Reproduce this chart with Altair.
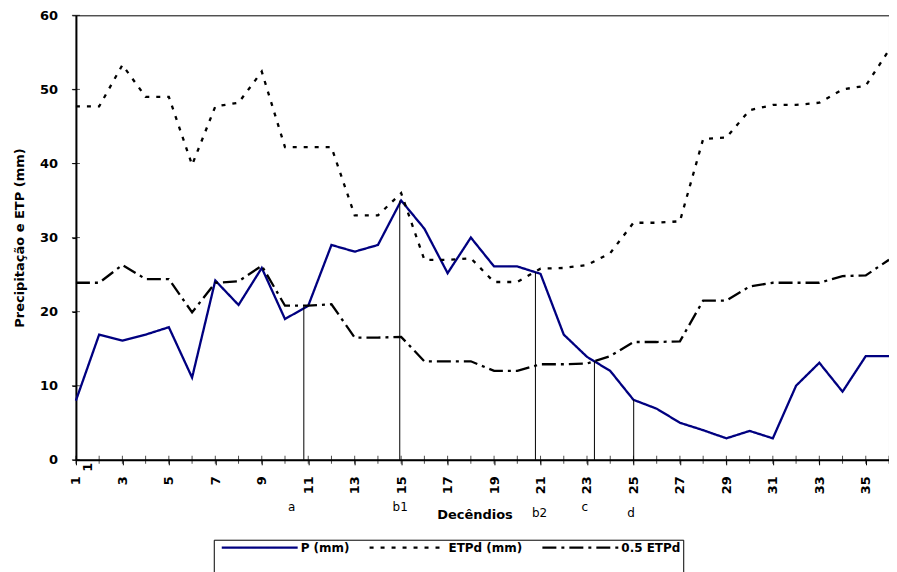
import altair as alt
import pandas as pd

# ---- data ----
decendios = list(range(1, 37))
series_names = ["P (mm)", "ETPd (mm)", "0.5 ETPd"]

p_mm = [8.0, 16.9, 16.1, 16.9, 17.9, 11.1, 24.2, 20.9, 25.9, 19.0,
        20.8, 29.0, 28.1, 29.0, 35.0, 31.2, 25.2, 30.0, 26.1, 26.1,
        25.1, 16.9, 13.9, 12.0, 8.1, 6.9, 5.0, 4.0, 2.9, 3.9,
        2.9, 10.0, 13.1, 9.2, 14.0, 14.0]

etpd_mm = [47.7, 47.7, 53.3, 49.0, 49.0, 39.8, 47.7, 48.2, 52.4, 42.2,
           42.2, 42.2, 33.0, 33.0, 36.0, 27.0, 27.0, 27.2, 24.0, 24.0,
           25.8, 25.9, 26.3, 27.9, 32.0, 32.0, 32.2, 43.3, 43.5, 47.2,
           47.9, 47.9, 48.2, 50.0, 50.5, 55.3]

half_etpd = [23.9, 23.9, 26.3, 24.4, 24.4, 19.9, 23.9, 24.1, 26.2, 20.8,
             20.8, 21.0, 16.5, 16.5, 16.6, 13.3, 13.3, 13.3, 12.0, 12.0,
             12.9, 12.9, 13.0, 14.0, 15.9, 15.9, 16.0, 21.5, 21.5, 23.4,
             23.9, 23.9, 23.9, 24.8, 24.9, 27.0]

# vertical reference lines (intersections) and their labels
line_x = [10.81, 14.94, 20.78, 23.32, 25.01]
line_top = [20.7, 35.0, 25.3, 13.3, 8.1]
upper_labels = ["a", "b1", "c"]
upper_label_x = [10.29, 14.96, 22.9]
lower_labels = ["b2", "d"]
lower_label_x = [20.96, 24.9]

extra_tick_label = ["1"]
extra_tick_x = [1.52]

x_tick_values = list(range(1, 37))
y_tick_values = [0, 10, 20, 30, 40, 50, 60]

# ---- tables ----
rows = []
for name, vals in zip(series_names, [p_mm, etpd_mm, half_etpd]):
    for d, v in zip(decendios, vals):
        rows.append({"Decêndio": d, "valor": v, "serie": name})
df = pd.DataFrame(rows)

rules_df = pd.DataFrame({"x": line_x, "top": line_top})
upper_df = pd.DataFrame({"x": upper_label_x, "t": upper_labels})
lower_df = pd.DataFrame({"x": lower_label_x, "t": lower_labels})
extra_df = pd.DataFrame({"x": extra_tick_x, "t": extra_tick_label})
xticks_df = pd.DataFrame({"v": x_tick_values})
yticks_df = pd.DataFrame({"v": y_tick_values})

FONT = "DejaVu Sans"

x_scale = alt.Scale(domain=[1, 36], nice=False, zero=False)
y_scale = alt.Scale(domain=[0, 60], nice=False)

NBSP = "\u00a0"
last_name = series_names[-1]
# trailing invisible spaces on the last entry widen the legend box to the right
legend_label_expr = (
    "datum.label + (datum.label == '" + last_name + "' ? '" + NBSP * 9 + "' : '')"
)

legend = alt.Legend(
    title=NBSP * 20, titleOrient="bottom", titleFontSize=14, titlePadding=5,
    titleLimit=1000, titleFont=FONT,
    orient="none", legendX=138, legendY=525, direction="horizontal",
    symbolType="M0,0H38", symbolSize=16, symbolStrokeWidth=2.3,
    labelFont=FONT, labelFontWeight="bold", labelFontSize=12, labelColor="black",
    labelOffset=73, columnPadding=14, strokeColor="black", padding=2,
    fillColor="white", labelExpr=legend_label_expr, labelLimit=1000,
)

x_axis = alt.Axis(
    values=x_tick_values,
    labelExpr="datum.value % 2 == 1 ? datum.label : ''",
    labelAngle=270, tickSize=5, labelPadding=11, labelOverlap=False, labelFlush=False,
    title="Decêndios", titleFont=FONT, titleFontWeight="bold", titleFontSize=13,
    titleX=399, titleY=55, titleBaseline="middle", titleAlign="center",
    grid=False,
)
y_axis = alt.Axis(
    values=y_tick_values, tickSize=4, labelPadding=14.5,
    title="Precipitação e ETP (mm)", titleFont=FONT, titleFontWeight="bold",
    titleFontSize=13, titleX=-56, titleY=222.5, titleAngle=270,
    titleAlign="center", titleBaseline="middle", grid=False,
)

lines = alt.Chart(df).mark_line(strokeWidth=2.3).encode(
    x=alt.X("Decêndio:Q", scale=x_scale, axis=x_axis),
    y=alt.Y("valor:Q", scale=y_scale, axis=y_axis),
    color=alt.Color("serie:N", scale=alt.Scale(domain=series_names,
                    range=["#000080", "#000000", "#000000"]), legend=legend),
    strokeDash=alt.StrokeDash("serie:N", scale=alt.Scale(domain=series_names,
                    range=[[1, 0], [4, 7], [14, 5, 3, 5]]), legend=legend),
)

rules = alt.Chart(rules_df).mark_rule(color="black", strokeWidth=1).encode(
    x=alt.X("x:Q", scale=x_scale),
    y=alt.Y("top:Q", scale=y_scale),
    y2=alt.Y2Datum(0),
)

# inner halves of the crossing tick marks
x_inner_ticks = alt.Chart(xticks_df).mark_tick(
    orient="vertical", size=8, thickness=1, color="black"
).encode(x=alt.X("v:Q", scale=x_scale), y=alt.value(445))

y_inner_ticks = alt.Chart(yticks_df).mark_tick(
    orient="horizontal", size=8, thickness=1, color="black"
).encode(y=alt.Y("v:Q", scale=y_scale), x=alt.value(0))

upper_text = alt.Chart(upper_df).mark_text(
    font=FONT, fontSize=12, color="black", baseline="alphabetic", align="center"
).encode(x=alt.X("x:Q", scale=x_scale), y=alt.value(496), text="t:N")

lower_text = alt.Chart(lower_df).mark_text(
    font=FONT, fontSize=12, color="black", baseline="alphabetic", align="center"
).encode(x=alt.X("x:Q", scale=x_scale), y=alt.value(502), text="t:N")

extra_text = alt.Chart(extra_df).mark_text(
    font=FONT, fontSize=13, fontWeight="bold", color="black", angle=270,
    baseline="middle", align="center"
).encode(x=alt.X("x:Q", scale=x_scale), y=alt.value(452.5), text="t:N")

chart = alt.layer(
    lines, rules, x_inner_ticks, y_inner_ticks, upper_text, lower_text, extra_text
).properties(
    width=814, height=445,
    padding={"left": 68, "top": 7, "right": 0, "bottom": 125},
    autosize=alt.AutoSizeParams(type="none"),
).configure_view(
    stroke="black", strokeWidth=1
).configure_axis(
    labelFont=FONT, labelFontWeight="bold", labelFontSize=13, labelColor="black",
    tickColor="black", domainColor="black", domainWidth=2, tickWidth=1,
    titleColor="black",
)

chart.save("out.html", embed_options={"renderer": "svg", "actions": False})
